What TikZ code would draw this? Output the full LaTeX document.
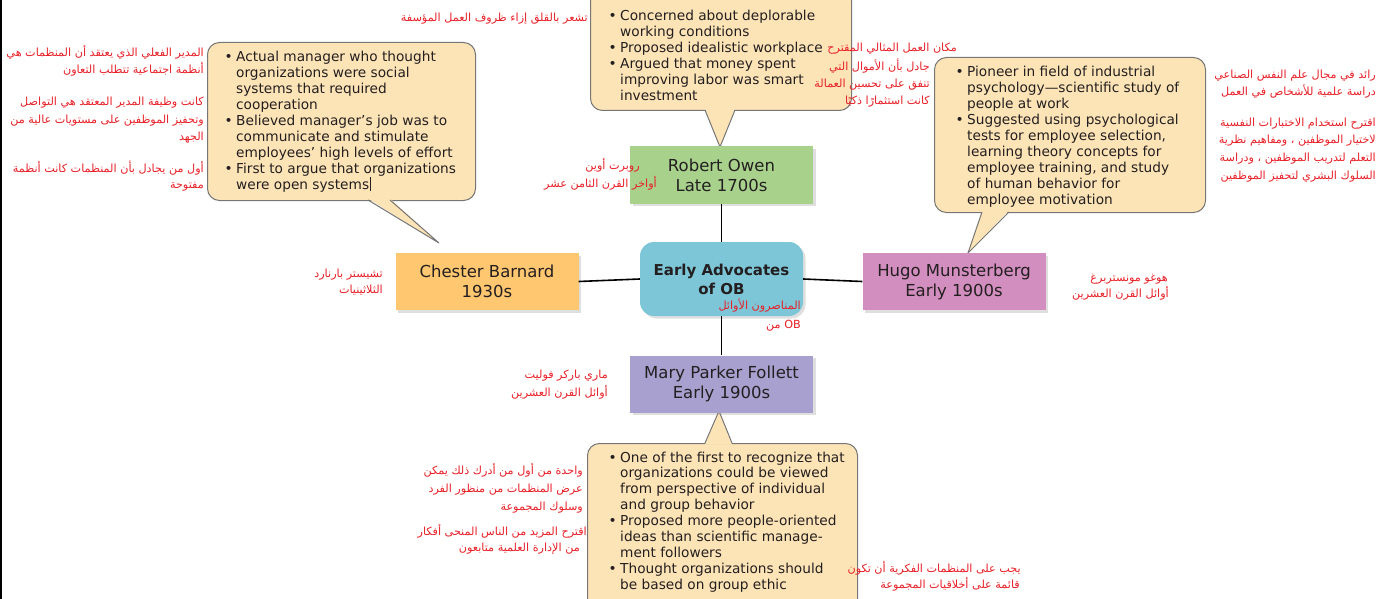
\documentclass[tikz,border=0pt]{standalone}
\usepackage{fontspec}
\setmainfont{DejaVu Sans}
\newfontfamily\arabicfont[Script=Arabic]{DejaVu Sans}
\TeXXeTstate=1
\usetikzlibrary{shadows}
\definecolor{cfill}{RGB}{253,228,183}
\definecolor{cline}{RGB}{118,118,118}
\definecolor{ccenter}{RGB}{125,198,215}
\definecolor{cowen}{RGB}{168,209,140}
\definecolor{cchester}{RGB}{255,199,111}
\definecolor{chugo}{RGB}{210,142,190}
\definecolor{cmary}{RGB}{168,161,207}
\definecolor{redt}{RGB}{232,32,40}
\definecolor{txt}{RGB}{35,31,32}
\newcommand\bul{\llap{\textbullet\hspace{3.5pt}}}
\newcommand\cursorbar{\hspace{1pt}\rule[-2pt]{0.8pt}{14pt}}
\newcommand\enlines[4]{\foreach \t [count=\i] in {#4} {\node[entext,anchor=base west] (#1\i) at (#2,{#3+15.9*(\i-1)}) {\t};}}
\newcommand\arl[4]{\node[artext,anchor=base east] (#1) at (#2,#3) {#4};}
\tikzset{
  entext/.style={font=\fontsize{13.7}{15.9}\selectfont, text=txt, inner sep=0pt},
  artext/.style={font=\arabicfont\fontsize{11.2}{14}\selectfont, text=redt, inner sep=0pt},
  cbody/.style={draw=cline, fill=cfill, line width=1pt, rounded corners=12pt, inner sep=0pt, anchor=north west},
  ptrfill/.style={fill=cfill},
  ptrline/.style={draw=cline, line width=1pt},
  advbox/.style={inner sep=0pt, minimum width=183pt, minimum height=57pt, align=center,
     font=\fontsize{16.5}{20}\selectfont, text=txt,
     drop shadow={opacity=0.25, shadow xshift=2.5pt, shadow yshift=-2.5pt}},
  conn/.style={line width=1.6pt, black}
}
\begin{document}
\begin{tikzpicture}[x=1pt,y=-1pt]
\useasboundingbox (0,0) rectangle (1382,599);
\fill[white] (0,0) rectangle (1382,599);
\draw[line width=2.5pt] (1.2,0) -- (1.2,599);

% ---- callouts ----
\node[cbody, minimum width=261pt, minimum height=122pt] (cbtop) at (590,-12) {};
\coordinate (ptop) at (720,147);
\fill[ptrfill] (705,108.5) -- (ptop) -- (735,108.5) -- cycle;
\draw[ptrline] (705,110) -- (ptop) -- (735,110);

\node[cbody, minimum width=268pt, minimum height=158pt] (cbchester) at (207,42) {};
\coordinate (pchester) at (439,243);
\fill[ptrfill] (368,198.5) -- (pchester) -- (390,198.5) -- cycle;
\draw[ptrline] (368,200) -- (pchester) -- (390,200);

\node[cbody, minimum width=271pt, minimum height=155pt] (cbhugo) at (934,57) {};
\coordinate (phugo) at (968,253);
\fill[ptrfill] (982,210.5) -- (phugo) -- (1009,210.5) -- cycle;
\draw[ptrline] (982,212) -- (phugo) -- (1009,212);

\node[cbody, minimum width=270pt, minimum height=170pt] (cbmary) at (587,443) {};
\coordinate (pmary) at (719,411);
\fill[ptrfill] (705,444.5) -- (pmary) -- (732,444.5) -- cycle;
\draw[ptrline] (705,443) -- (pmary) -- (732,443);

% ---- callout texts ----
\enlines{ttop}{620}{21}{\bul Concerned about deplorable, working conditions, \bul Proposed idealistic workplace, \bul Argued that money spent, improving labor was smart, investment}
\enlines{tch}{236}{62}{\bul Actual manager who thought, organizations were social, systems that required, cooperation, \bul Believed manager’s job was to, communicate and stimulate, employees’ high levels of effort, \bul First to argue that organizations, were open systems\cursorbar}
\enlines{thu}{967}{77}{\bul Pioneer in field of industrial, psychology—scientific study of, people at work, \bul Suggested using psychological, {tests for employee selection,}, learning theory concepts for, {employee training, and study}, of human behavior for, employee motivation}
\enlines{tma}{620}{462}{\bul One of the first to recognize that, organizations could be viewed, from perspective of individual, and group behavior, \bul Proposed more people-oriented, ideas than scientific manage-, ment followers, \bul Thought organizations should, be based on group ethic}

% ---- boxes ----
\node[advbox, fill=cowen] (owen) at (721.5,175) {Robert Owen\\Late 1700s};
\node[advbox, fill=cchester] (chester) at (487,281.5) {Chester Barnard\\1930s};
\node[advbox, fill=chugo] (hugo) at (954,281.5) {Hugo Munsterberg\\Early 1900s};
\node[advbox, fill=cmary] (mary) at (721.5,384) {Mary Parker Follett\\Early 1900s};
\node[advbox, fill=ccenter, rounded corners=14pt, minimum width=163pt, minimum height=74pt,
      font=\bfseries\fontsize{15}{19}\selectfont] (center) at (721.5,279) {Early Advocates\\of OB};

\draw[conn] (center.north) -- (owen.south);
\draw[conn] (center.west) -- (chester.east);
\draw[conn] (center.east) -- (hugo.west);
\draw[conn] (center.south) -- (mary.north);

% ---- Arabic annotations ----
\arl{t1}{588}{22}{\beginR تشعر بالقلق إزاء ظروف العمل المؤسفة\endR}
\arl{tr1}{957}{52}{\beginR مكان العمل المثالي المقترح\endR}
\arl{tr2}{930}{71}{\beginR جادل بأن الأموال التي\endR}
\arl{tr3}{930}{88}{\beginR تنفق على تحسين العمالة\endR}
\arl{tr4}{930}{105}{\beginR كانت استثمارًا ذكيًا\endR}
\arl{l1}{204}{57}{\beginR المدير الفعلي الذي يعتقد أن المنظمات هي\endR}
\arl{l2}{204}{74}{\beginR أنظمة اجتماعية تتطلب التعاون\endR}
\arl{l3}{204}{106}{\beginR كانت وظيفة المدير المعتقد هي التواصل\endR}
\arl{l4}{204}{124}{\beginR وتحفيز الموظفين على مستويات عالية من\endR}
\arl{l5}{204}{141}{\beginR الجهد\endR}
\arl{l6}{204}{172}{\beginR أول من يجادل بأن المنظمات كانت أنظمة\endR}
\arl{l7}{204}{189}{\beginR مفتوحة\endR}
\arl{r1}{1376}{79}{\beginR رائد في مجال علم النفس الصناعي\endR}
\arl{r2}{1376}{96}{\beginR دراسة علمية للأشخاص في العمل\endR}
\arl{r3}{1376}{127}{\beginR اقترح استخدام الاختبارات النفسية\endR}
\arl{r4}{1376}{144}{\beginR لاختيار الموظفين ، ومفاهيم نظرية\endR}
\arl{r5}{1376}{162}{\beginR التعلم لتدريب الموظفين ، ودراسة\endR}
\arl{r6}{1376}{179}{\beginR السلوك البشري لتحفيز الموظفين\endR}
\arl{o1}{640}{170}{\beginR روبرت أوين\endR}
\arl{o2}{657}{188}{\beginR أواخر القرن الثامن عشر\endR}
\arl{ch1}{383}{277}{\beginR تشيستر بارنارد\endR}
\arl{ch2}{383}{293}{\beginR الثلاثينيات\endR}
\arl{h1}{1168}{281}{\beginR هوغو مونستربرغ\endR}
\arl{h2}{1169}{297}{\beginR أوائل القرن العشرين\endR}
\arl{c1}{801}{309}{\beginR المناصرون الأوائل\endR}
\node[artext,anchor=base east] (c2) at (801,328) {\beginR\beginL OB\endL{} من\endR};
\arl{m1}{608}{378}{\beginR ماري باركر فوليت\endR}
\arl{m2}{608}{396}{\beginR أوائل القرن العشرين\endR}
\arl{b1}{583}{474}{\beginR واحدة من أول من أدرك ذلك يمكن\endR}
\arl{b2}{583}{492}{\beginR عرض المنظمات من منظور الفرد\endR}
\arl{b3}{583}{510}{\beginR وسلوك المجموعة\endR}
\arl{b4}{587}{535}{\beginR اقترح المزيد من الناس المنحى أفكار\endR}
\arl{b5}{580}{551}{\beginR من الإدارة العلمية متابعون\endR}
\arl{br1}{1021}{572}{\beginR يجب على المنظمات الفكرية أن تكون\endR}
\arl{br2}{1020}{588}{\beginR قائمة على أخلاقيات المجموعة\endR}
\end{tikzpicture}
\end{document}
